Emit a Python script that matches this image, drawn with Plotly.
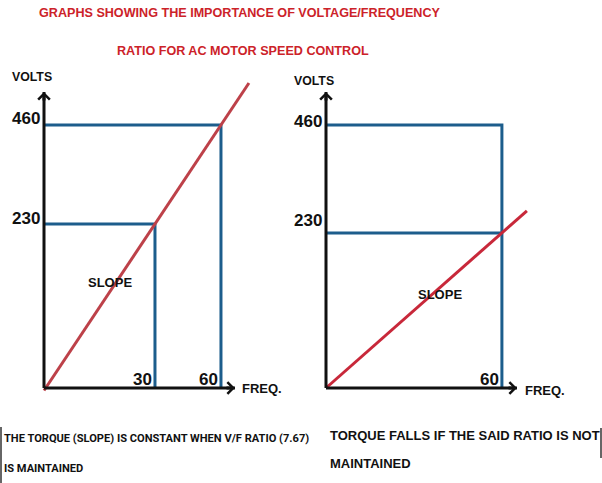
import numpy as np
import plotly.graph_objects as go

# ---------------- data ----------------
title_lines = ["GRAPHS SHOWING THE IMPORTANCE OF VOLTAGE/FREQUENCY",
               "RATIO FOR AC MOTOR SPEED CONTROL"]
volt_ticks = [230, 460]                 # V
left_freq_ticks = [30, 60]              # Hz
right_freq_ticks = [60]                 # Hz
# red V/F lines (schematic end points)
left_line_freq = [9.35, 80.5]
left_line_volts = [71.7, 617.0]         # ratio 7.67 kept
right_line_freq = [22.2, 69.1]
right_line_volts = [85.0, 265.0]        # ratio 230/60 (not kept)
notes_left = ["THE TORQUE (SLOPE) IS CONSTANT WHEN V/F RATIO (7.67)", "IS MAINTAINED"]
notes_right = ["TORQUE FALLS IF THE SAID RATIO IS NOT", "MAINTAINED"]

# ---------------- geometry (schematic, not-to-scale drawing -> log axes) ----------------
W, H = 602, 483
panels = {
    "left":  dict(ox=44, oy=388, f0=9.35, v0=72.96, bx=219.2, by=328.9, dom=[0.0, 0.5]),
    "right": dict(ox=326, oy=388, f0=22.2, v0=85.0, bx=407.4, by=358.8, dom=[0.5, 1.0]),
}
AXIS_LEN_X, AXIS_LEN_Y = 191, 296

BLACK = "#111111"
BLUE = "#1c5d8c"
RED_L = "#bd4149"
RED_R = "#c8283a"
TITLE_RED = "#cc2229"
FONT = "Liberation Sans, Arial, sans-serif"
NARROW = "Roboto, Liberation Sans, sans-serif"

L = np.log10


def ranges(p):
    lf0, lv0 = L(p["f0"]), L(p["v0"])
    xr = [lf0 + (p["dom"][0] * W - p["ox"]) / p["bx"], lf0 + (p["dom"][1] * W - p["ox"]) / p["bx"]]
    yr = [lv0 + (p["oy"] - H) / p["by"], lv0 + p["oy"] / p["by"]]
    return xr, yr


def tips(p):
    ft = 10 ** (L(p["f0"]) + AXIS_LEN_X / p["bx"])
    vt = 10 ** (L(p["v0"]) + AXIS_LEN_Y / p["by"])
    return ft, vt


fig = go.Figure()
annotations = []


def add_line(x, y, color, width, xa, ya):
    fig.add_trace(go.Scatter(x=x, y=y, mode="lines", xaxis=xa, yaxis=ya,
                             line=dict(color=color, width=width), hoverinfo="skip",
                             showlegend=False))


for name, red_f, red_v, fticks, red_col, xa, ya in [
        ("left", left_line_freq, left_line_volts, left_freq_ticks, RED_L, "x", "y"),
        ("right", right_line_freq, right_line_volts, right_freq_ticks, RED_R, "x2", "y2")]:
    p = panels[name]
    f0, v0 = p["f0"], p["v0"]
    ft, vt = tips(p)
    fmax = max(fticks)
    # blue guide lines
    add_line([f0, fmax, fmax], [volt_ticks[1], volt_ticks[1], v0], BLUE, 3, xa, ya)
    if name == "left":
        add_line([f0, fticks[0], fticks[0]], [volt_ticks[0], volt_ticks[0], v0], BLUE, 3, xa, ya)
    else:
        add_line([f0, fmax], [volt_ticks[0], volt_ticks[0]], BLUE, 3, xa, ya)
    # red V/F line
    add_line(red_f, red_v, red_col, 3, xa, ya)
    # axes
    add_line([f0, ft], [v0, v0], BLACK, 3, xa, ya)
    add_line([f0, f0], [v0, vt], BLACK, 3, xa, ya)
    # arrow heads
    annotations.append(dict(x=L(ft), y=L(v0), xref=xa, yref=ya, ax=-10, ay=0, text="",
                            showarrow=True, arrowhead=4, arrowwidth=3, arrowsize=0.75,
                            arrowcolor=BLACK, standoff=0))
    annotations.append(dict(x=L(f0), y=L(vt), xref=xa, yref=ya, ax=0, ay=10, text="",
                            showarrow=True, arrowhead=4, arrowwidth=3, arrowsize=0.75,
                            arrowcolor=BLACK, standoff=0))
    # volt tick labels
    yshifts = {"left": [6, 6], "right": [12, 3]}[name]
    for v, ys in zip(volt_ticks, yshifts):
        annotations.append(dict(x=L(f0), y=L(v), xref=xa, yref=ya, text=str(v), showarrow=False,
                                xanchor="right", yanchor="middle", xshift=-2, yshift=ys,
                                font=dict(family=FONT, size=17, color=BLACK, weight="bold")))
    # freq tick labels (inside, left of the verticals)
    for f in fticks:
        annotations.append(dict(x=L(f), y=L(v0), xref=xa, yref=ya, text=str(f), showarrow=False,
                                xanchor="right", yanchor="middle", xshift=-1, yshift=9,
                                font=dict(family=FONT, size=17, color=BLACK, weight="bold")))


def paper_text(text, px, py, size, color=BLACK, anchor="center", family=FONT, weight="bold"):
    annotations.append(dict(x=px / W, y=1 - py / H, xref="paper", yref="paper", text=text,
                            showarrow=False, xanchor=anchor, yanchor="middle",
                            font=dict(family=family, size=size, color=color, weight=weight)))


paper_text(title_lines[0], 240, 13, 12.6, TITLE_RED)
paper_text(title_lines[1], 243, 51, 12.6, TITLE_RED)
paper_text("VOLTS", 31.5, 77, 12.3)
paper_text("VOLTS", 313.5, 81, 12.3)
paper_text("FREQ.", 240, 388, 13, anchor="left")
paper_text("FREQ.", 523, 390, 13, anchor="left")
paper_text("SLOPE", 110, 282, 13)
paper_text("SLOPE", 440, 294, 13)
paper_text(notes_left[0], 2, 438, 11.1, anchor="left", family=NARROW)
paper_text(notes_left[1], 2, 468, 11.1, anchor="left", family=NARROW)
paper_text(notes_right[0], 328, 435, 13, anchor="left")
paper_text(notes_right[1], 328, 463, 13, anchor="left")

shapes = [
    dict(type="line", xref="paper", yref="paper", x0=1 / W, x1=1 / W, y0=1 - 427 / H, y1=0,
         line=dict(color="#333333", width=1.5)),
    dict(type="line", xref="paper", yref="paper", x0=601 / W, x1=601 / W, y0=1 - 428 / H,
         y1=1 - 458 / H, line=dict(color="#333333", width=1.5)),
]

xr_l, yr_l = ranges(panels["left"])
xr_r, yr_r = ranges(panels["right"])
hidden = dict(visible=False, showgrid=False, zeroline=False, type="log", fixedrange=True)

fig.update_layout(
    width=W, height=H,
    margin=dict(l=0, r=0, t=0, b=0, pad=0),
    paper_bgcolor="white", plot_bgcolor="white",
    showlegend=False,
    xaxis=dict(hidden, domain=panels["left"]["dom"], range=xr_l),
    yaxis=dict(hidden, domain=[0, 1], range=yr_l, anchor="x"),
    xaxis2=dict(hidden, domain=panels["right"]["dom"], range=xr_r, anchor="y2"),
    yaxis2=dict(hidden, domain=[0, 1], range=yr_r, anchor="x2"),
    annotations=annotations,
    shapes=shapes,
)

fig.write_html("out.html")
